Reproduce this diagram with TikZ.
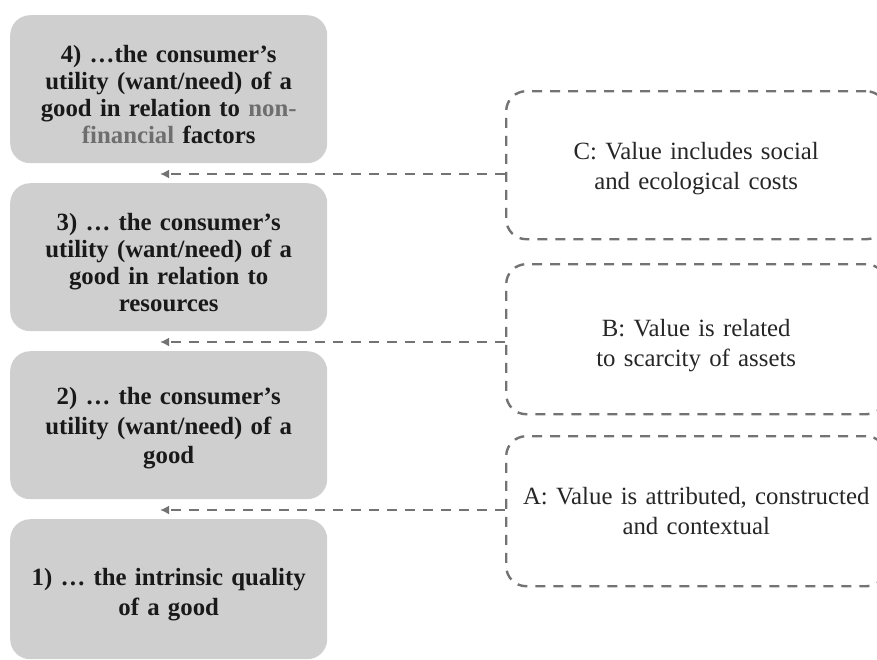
\documentclass[tikz,border=0pt]{standalone}
\usepackage{fontspec}
\setmainfont{Liberation Serif}
\usetikzlibrary{arrows.meta}
\definecolor{boxgray}{HTML}{CFCFCF}
\definecolor{dashgray}{HTML}{737373}
\definecolor{txtgray}{HTML}{6E6E6E}
\newcommand\topgap[1]{\rule{0pt}{#1}}
\tikzset{
  levelbox/.style={fill=boxgray, draw=none, rounded corners=20pt, minimum width=317pt, minimum height=148pt,
    text width=305pt, align=center, inner sep=0pt, anchor=north west,
    font=\fontsize{24.8pt}{27pt}\selectfont\bfseries, text=black!90},
  valuebox/.style={draw=dashgray, line width=2.4pt, dash pattern=on 10pt off 8pt, rounded corners=20pt,
    minimum width=380pt, minimum height=148pt, text width=370pt, align=center, inner sep=0pt, anchor=north west,
    font=\fontsize{24.8pt}{30pt}\selectfont, text=black!85},
  linkarrow/.style={draw=dashgray, line width=2.4pt, dash pattern=on 10pt off 8pt,
    -{Latex[length=9pt,width=9pt]}},
}
\begin{document}
\begin{tikzpicture}[x=1pt,y=-1pt]
\useasboundingbox (0,0) rectangle (877,659);
\clip (0,0) rectangle (877,659);
\node[levelbox] (L4) at (10,15) {\topgap{27pt}4) \ldots the consumer's\\utility (want/need) of a\\good in relation to \textcolor{txtgray}{non-}\\\textcolor{txtgray}{financial} factors};
\node[levelbox] (L3) at (10,183) {\topgap{27pt}3) \ldots\ the consumer's\\utility (want/need) of a\\good in relation to\\resources};
\node[levelbox] (L2) at (10,351) {\topgap{24pt}2) \ldots\ the consumer's\\[2.5pt]utility (want/need) of a\\[2.5pt]good};
\node[levelbox, minimum height=140pt] (L1) at (10,519) {\topgap{29pt}1) \ldots\ the intrinsic quality\\[3pt]of a good};

\node[valuebox] (C) at (505,90) {\topgap{23pt}C: Value includes social\\and ecological costs};
\node[valuebox, minimum height=150pt] (B) at (505,263) {\topgap{29pt}B: Value is related\\to scarcity of assets};
\node[valuebox, minimum height=150pt] (A) at (505,435) {A: Value is attributed, constructed\\and contextual};

\coordinate (t4) at (160,174);
\coordinate (t3) at (160,342);
\coordinate (t2) at (160,510);
\draw[linkarrow] (C.west |- t4) -- (t4);
\draw[linkarrow] (B.west |- t3) -- (t3);
\draw[linkarrow] (A.west |- t2) -- (t2);
\end{tikzpicture}
\end{document}
